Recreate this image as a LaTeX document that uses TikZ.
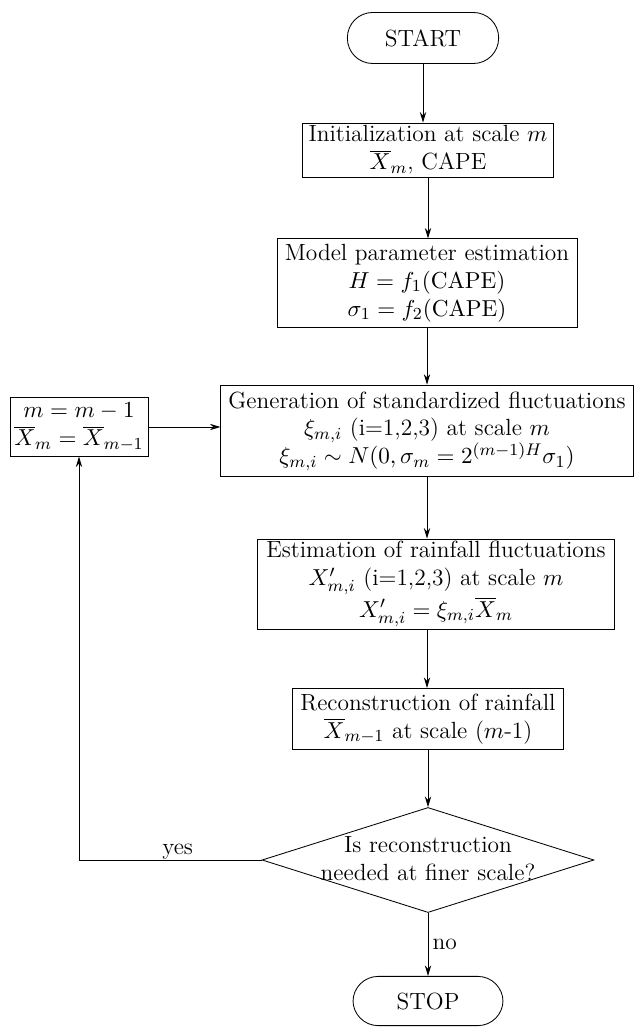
\documentclass[tikz,border=0pt]{standalone}
\usetikzlibrary{shapes.geometric,arrows.meta}
\begin{document}
\begin{tikzpicture}[x=0.016667cm,y=-0.016667cm,>={Stealth[length=5pt,width=3pt]}]
    \tikzstyle{every node}+=[inner sep=0pt, align=center, font=\fontsize{11.1}{13.2}\selectfont]
    \tikzstyle{proc}=[draw, rectangle]
    \tikzstyle{term}=[draw, rounded corners=0.42cm]
    \useasboundingbox (0,0) rectangle (634,1028);
    \node [term, minimum width=2.52cm, minimum height=0.85cm] (start) at (423,38) {START};
    \node [proc, minimum width=4.17cm, minimum height=0.9cm] (init) at (428,150)
        {Initialization at scale $m$\\ $\overline{X}_m$, CAPE};
    \node [proc, minimum width=5cm, minimum height=1.47cm] (model) at (427,283)
        {Model parameter estimation\\ $H=f_1(\mathrm{CAPE})$\\ $\sigma_1=f_2(\mathrm{CAPE})$};
    \node [proc, minimum width=6.87cm, minimum height=1.53cm] (gen) at (427,431)
        {Generation of standardized fluctuations\\ $\xi_{m,i}$ (i=1,2,3) at scale $m$\\
         $\xi_{m,i}\sim N(0,\sigma_m=2^{(m-1)H}\sigma_1)$};
    \node [proc, minimum width=2.3cm, minimum height=0.97cm] (back) at (79,427)
        {$m=m-1$\\ $\overline{X}_m=\overline{X}_{m-1}$};
    \node [proc, minimum width=5.95cm, minimum height=1.5cm] (est) at (436,584)
        {Estimation of rainfall fluctuations\\ $X'_{m,i}$ (i=1,2,3) at scale $m$\\
         $X'_{m,i}=\xi_{m,i}\overline{X}_m$};
    \node [proc, minimum width=4.52cm, minimum height=1.02cm] (recon) at (428,719)
        {Reconstruction of rainfall\\ $\overline{X}_{m-1}$ at scale ($m$-1)};
    \node [draw, diamond, minimum width=5.53cm, minimum height=1.75cm] (dec) at (428,860) {};
    \node (dectext) at (428,859) {Is reconstruction\\ needed at finer scale?};
    \node [term, minimum width=2.5cm, minimum height=0.82cm] (stop) at (428,1001) {STOP};
    \draw [->] (start) -- (start |- init.north);
    \draw [->] (init) -- (init |- model.north);
    \draw [->] (model) -- (model |- gen.north);
    \draw [->] (gen) -- (gen |- est.north);
    \draw [->] (gen.south |- est.south) -- (gen.south |- recon.north);
    \draw [->] (recon) -- (dec.north);
    \draw [->] (back) -- (gen.west |- back);
    \draw [->] (dec.west) -| node [above, pos=0.23] {yes} (back.south);
    \draw [->] (dec.south) -- node [right, xshift=2pt] {no} (stop.north);
\end{tikzpicture}
\end{document}
